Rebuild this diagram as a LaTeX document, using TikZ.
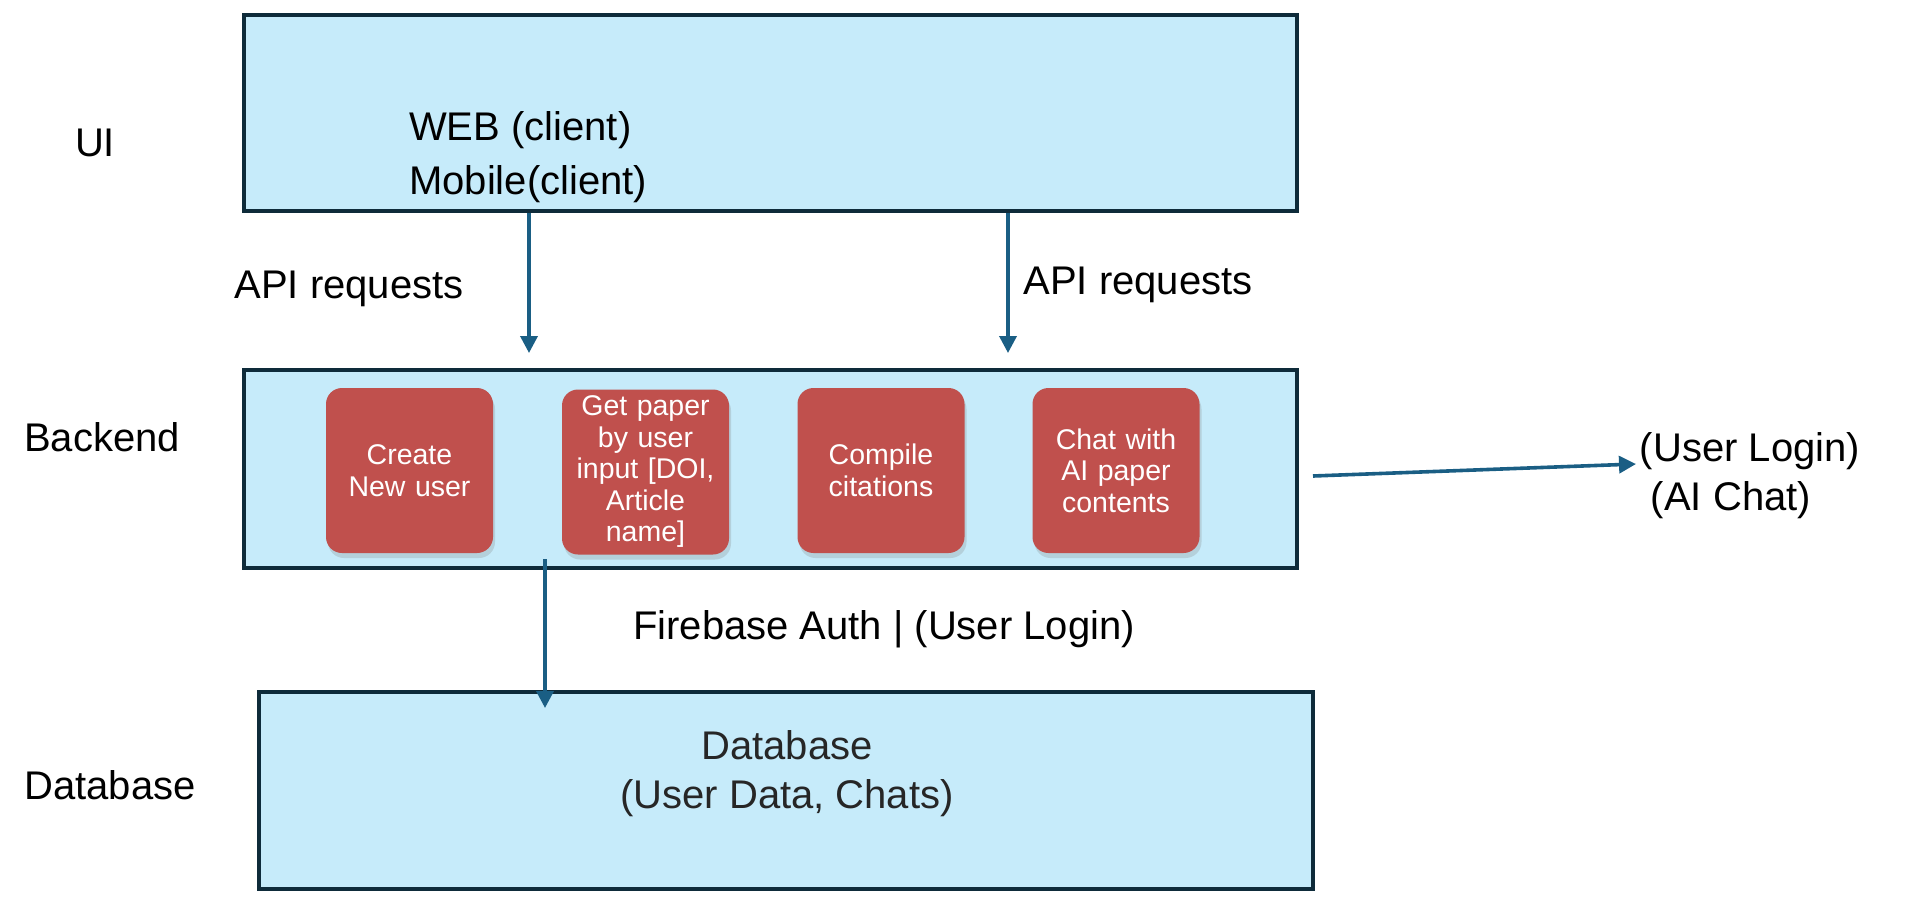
\documentclass[tikz,border=0pt]{standalone}
\usepackage{fontspec}
\setmainfont{Liberation Sans}
\usepackage{tikz}
\usetikzlibrary{arrows.meta,positioning,shadows}
\definecolor{skyfill}{HTML}{C6EBFA}
\definecolor{navyline}{HTML}{0E2B3A}
\definecolor{brick}{HTML}{C0504D}
\definecolor{teal}{HTML}{1A5E84}
\definecolor{ink}{HTML}{262626}
\tikzset{
  layerbox/.style={
    rectangle, draw=navyline, fill=skyfill, line width=4pt,
    minimum width=#1, minimum height=196pt, inner sep=0pt
  },
  layerbox/.default=1053pt,
  servicebox/.style={
    rectangle, rounded corners=16pt, fill=brick, text=white,
    minimum width=167pt, minimum height=165pt, inner sep=2pt,
    text width=150pt, align=center,
    font=\fontsize{28.5}{31.5}\selectfont,
    drop shadow={opacity=0.25, shadow xshift=2pt, shadow yshift=-5pt}
  },
  tierlabel/.style={font=\fontsize{40}{48}\selectfont, inner sep=0pt},
  apiarrow/.style={
    -{Triangle[length=17pt,width=17pt]}, line width=3.6pt, color=teal
  }
}
\begin{document}
\begin{tikzpicture}[x=1pt, y=-1pt]
  \useasboundingbox (0,0) rectangle (1915,910);
  \node[layerbox] at (770.5,113) (ui) {};
  \node[layerbox, minimum height=198pt] at (770.5,469) (backend) {};
  \node[layerbox=1054pt, minimum height=197pt] at (786,790.5) (db) {};
  \node[tierlabel] at (95,143) (uilbl) {UI};
  \node[tierlabel] at (102,437) (backendlbl) {Backend};
  \node[tierlabel] at (110,785) (dblbl) {Database};
  \node[tierlabel, anchor=west, align=left, font=\fontsize{40}{54}\selectfont] at (409,157) (clients) {WEB (client)\\Mobile(client)};
  \node[servicebox] at (409.5,470.5) (newuser) {Create\\New user};
  \node[servicebox] at (645.5,472) (getpaper) {Get paper\\by user\\input [DOI,\\Article\\name]};
  \node[servicebox] at (881,470.5) (compile) {Compile\\citations};
  \node[servicebox] at (1116,470.5) (chat) {Chat with\\AI paper\\contents};
  \node[tierlabel, text=ink, align=center, font=\fontsize{40}{49}\selectfont] at (787,774) (dbtext) {Database\\(User Data, Chats)};
  \coordinate (req1) at (529,353);
  \coordinate (req2) at (1008,353);
  \draw[apiarrow] (ui.south -| req1) -- (req1);
  \draw[apiarrow] (ui.south -| req2) -- (req2);
  \node[tierlabel] at (349,289) (req1lbl) {API requests};
  \node[tierlabel] at (1138,285) (req2lbl) {API requests};
  \coordinate (authsrc) at (545,559);
  \coordinate (authdst) at (545,708);
  \draw[apiarrow] (authsrc) -- (authdst);
  \node[tierlabel] at (884,629) (authlbl) {Firebase Auth | (User Login)};
  \coordinate (outsrc) at (1313,476);
  \coordinate (outdst) at (1636,464);
  \draw[apiarrow] (outsrc) -- (outdst);
  \node[tierlabel] at (1750,451) (loginlbl) {(User Login)};
  \node[tierlabel] at (1731,500) (aichatlbl) {(AI Chat)};
\end{tikzpicture}
\end{document}
